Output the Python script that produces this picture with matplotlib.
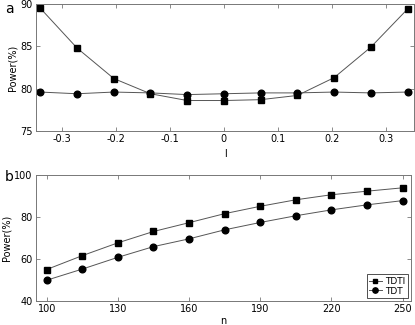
import numpy as np
import matplotlib.pyplot as plt

# panel a
l_vals = np.linspace(-0.34, 0.34, 11)
tdti_a = [89.5, 84.8, 81.2, 79.4, 78.6, 78.6, 78.7, 79.2, 81.3, 84.9, 89.4]
tdt_a = [79.6, 79.4, 79.6, 79.5, 79.3, 79.4, 79.5, 79.5, 79.6, 79.5, 79.6]

# panel b
n_vals = [100, 115, 130, 145, 160, 175, 190, 205, 220, 235, 250]
tdti_b = [55.0, 61.6, 67.7, 73.1, 77.3, 81.6, 85.1, 88.2, 90.6, 92.3, 93.9]
tdt_b = [49.9, 55.2, 60.8, 65.9, 69.6, 73.9, 77.4, 80.6, 83.4, 85.8, 87.8]

plt.rcParams['font.size'] = 7
fig = plt.figure(figsize=(4.15, 3.25), dpi=100)
ax1 = fig.add_axes([36/415, 1 - 131/325, 378/415, 127/325])
ax2 = fig.add_axes([36/415, 1 - 301/325, 375/415, 126/325])

line_kw = dict(color='#555555', lw=0.7)
sq_kw = dict(marker='s', ms=4.0, mfc='black', mec='black')
ci_kw = dict(marker='o', ms=4.8, mfc='black', mec='black')

ax1.plot(l_vals, tdti_a, **line_kw, **sq_kw)
ax1.plot(l_vals, tdt_a, **line_kw, **ci_kw)
ax1.set_xlim(-0.348, 0.352)
ax1.set_ylim(75, 90)
ax1.set_xticks([-0.3, -0.2, -0.1, 0, 0.1, 0.2, 0.3])
ax1.set_xticklabels(['-0.3', '-0.2', '-0.1', '0', '0.1', '0.2', '0.3'])
ax1.set_yticks([75, 80, 85, 90])
ax1.set_xlabel('l', labelpad=3)
ax1.set_ylabel('Power(%)', labelpad=2)

ax2.plot(n_vals, tdti_b, **line_kw, **sq_kw, label='TDTI')
ax2.plot(n_vals, tdt_b, **line_kw, **ci_kw, label='TDT')
ax2.set_xlim(95.5, 253.5)
ax2.set_ylim(40, 100)
ax2.set_xticks([100, 130, 160, 190, 220, 250])
ax2.set_yticks([40, 60, 80, 100])
ax2.set_xlabel('n', labelpad=1)
ax2.set_ylabel('Power(%)', labelpad=2)
leg = ax2.legend(loc='lower right', fancybox=False, edgecolor='black',
                 handlelength=1.4, handletextpad=0.4, borderpad=0.25,
                 labelspacing=0.1, borderaxespad=0.35, fontsize=6.5,
                 markerscale=0.8)
leg.get_frame().set_linewidth(0.6)

for ax in (ax1, ax2):
    for s in ax.spines.values():
        s.set_color('#777777')
        s.set_linewidth(0.7)
    ax.tick_params(direction='in', top=True, right=True, length=3,
                   width=0.6, color='#777777', pad=2.5, labelsize=7)

fig.text(5/415, 1 - 9/325, 'a', fontsize=10, va='center')
fig.text(5/415, 1 - 177/325, 'b', fontsize=10, va='center')

fig.savefig('out.png', dpi=100)
